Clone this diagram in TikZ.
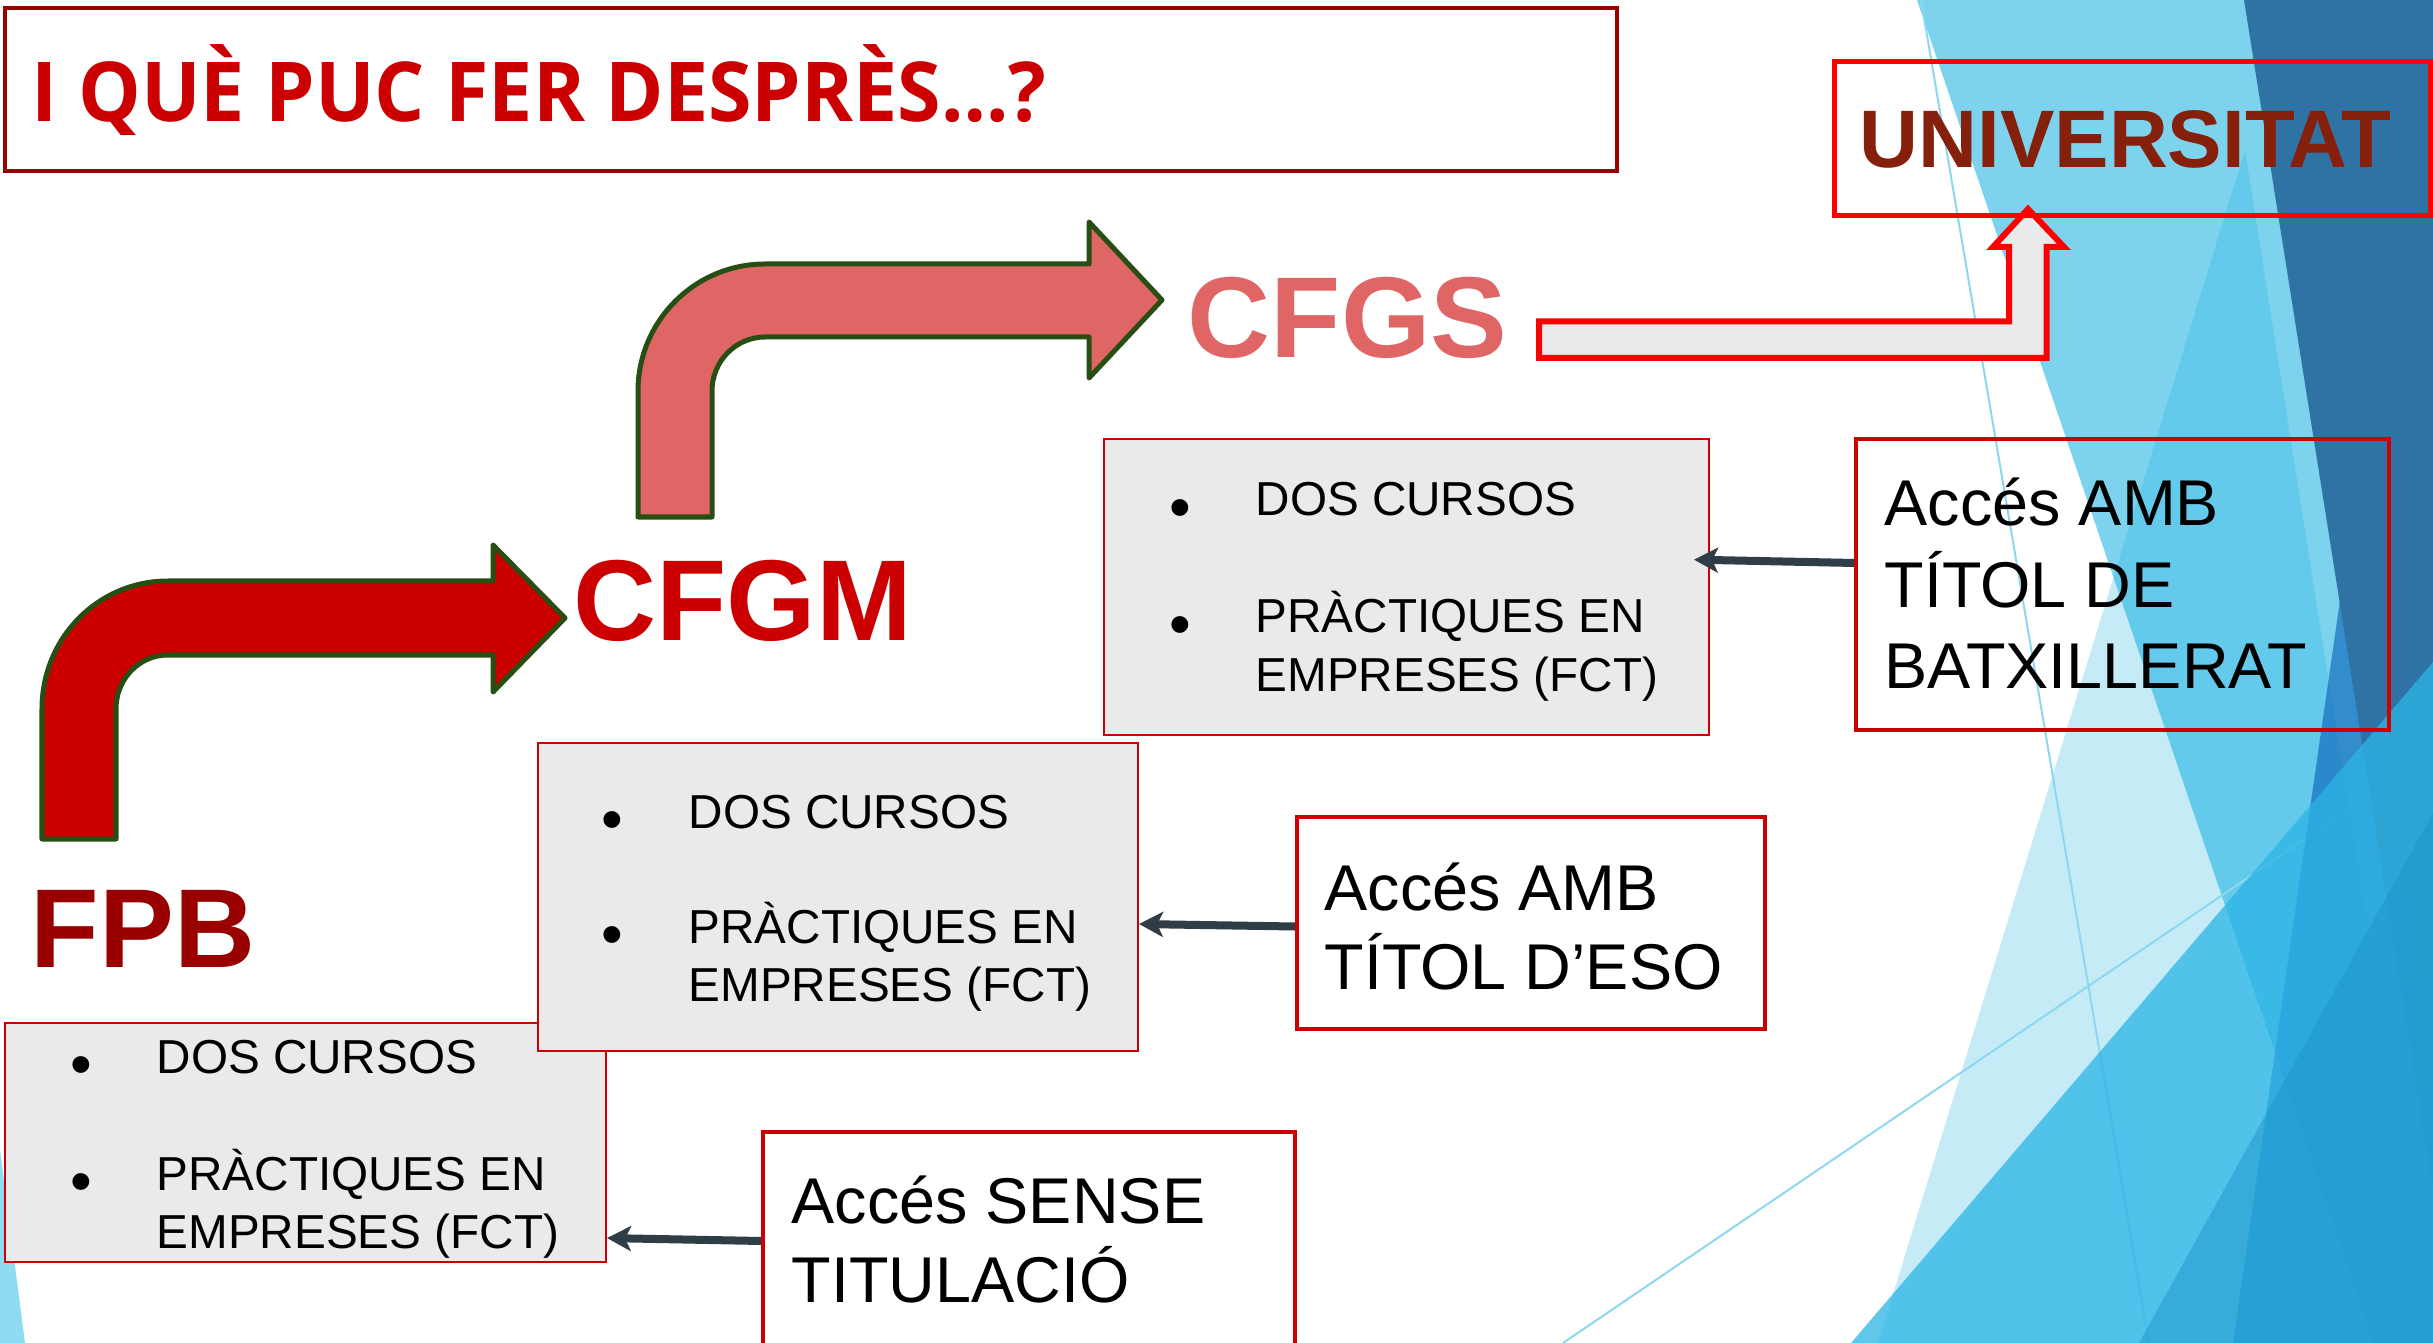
\documentclass[tikz,border=0pt]{standalone}
\usepackage{fontspec}
\setmainfont{Liberation Sans}
\newfontfamily\titlefont{Open Sans}
\usetikzlibrary{arrows.meta,fit}
\newcommand{\fsz}[1]{\fontsize{#1}{#1}\selectfont}
\definecolor{tred}{HTML}{CC0000}
\definecolor{dred}{HTML}{990000}
\definecolor{cpink}{HTML}{E06666}
\definecolor{cbrown}{HTML}{85200C}
\definecolor{cgreen}{HTML}{274E13}
\definecolor{cgray}{HTML}{EAEAEA}
\definecolor{cslate}{HTML}{2F3E46}
\definecolor{cbright}{HTML}{FF0000}
\definecolor{cLT}{HTML}{7DD3EE}
\definecolor{cPT}{HTML}{1BB0E3}
\definecolor{cline}{HTML}{8DD8F0}
\definecolor{cTthree}{HTML}{146EBE}
\definecolor{cDB}{HTML}{2F72A4}
\definecolor{cTone}{HTML}{2BB5E5}
\definecolor{cTtwo}{HTML}{1E96CD}
\definecolor{cSL}{HTML}{8FDBF2}
\tikzset{
  gbox/.style={fill=cgray, draw=tred, line width=0.02cm, inner sep=0pt},
  abox/.style={draw=tred, line width=0.04cm, inner sep=0pt},
  lbl/.style={anchor=base west, inner sep=0pt},
  gtext/.style={lbl, font=\fsz{13.55pt}},
  atext/.style={lbl, font=\fsz{18.4pt}},
  bul/.style={anchor=base, inner sep=0pt, font=\fsz{17.6pt}},
  big/.style={lbl, font=\bfseries\fsz{32.7pt}},
  conn/.style={draw=cslate, line width=0.08cm, -{Stealth[length=0.24cm,width=0.25cm,inset=0.06cm]}},
  blockarrow/.style={draw=cgreen, line width=0.05cm, line join=round},
}
\newcommand{\graylist}[6]{%
  \node[bul] (#1b1) at (#2,#4+12) {•};
  \node[bul] (#1b2) at (#2,#5+12) {•};
  \node[gtext] (#1t1) at (#3,#4) {DOS CURSOS};
  \node[gtext] (#1t2) at (#3,#5) {PRÀCTIQUES EN};
  \node[gtext] (#1t3) at (#3,#6) {EMPRESES (FCT)};
}
\begin{document}
\begin{tikzpicture}[x=0.01cm,y=-0.01cm]
\clip (0,0) rectangle (2433,1343);
\fill[white] (0,0) rectangle (2433,1343);
% background facets
\fill[cLT] (1917,0) -- (2433,0) -- (2433,1343) -- (2374,1343) -- cycle;
\fill[cPT, opacity=0.25] (2245,150) -- (1878,1343) -- (2433,1343) -- cycle;
\draw[cline, line width=0.02cm] (1921,0) -- (2149,1343);
\draw[cline, line width=0.02cm] (1563,1343) -- (2433,752);
\fill[cTthree, opacity=0.7] (2340,600) -- (2233,1343) -- (2433,1343) -- (2433,600) -- cycle;
\fill[cDB] (2244,0) -- (2433,0) -- (2433,1190) -- cycle;
\fill[cTone, opacity=0.75] (1851,1343) -- (2433,662) -- (2433,1343) -- cycle;
\fill[cTtwo, opacity=0.5] (2139,1343) -- (2433,813) -- (2433,1343) -- cycle;
\fill[cSL] (0,1150) -- (25,1343) -- (0,1343) -- cycle;

% title
\node[fit={(5,8) (1617,171)}, draw=dred, line width=0.04cm, inner sep=0pt] (titlebox) {};
\node[lbl, text=tred, font=\titlefont\bfseries\fsz{23.5pt}] (title) at (31,122) {\scalebox{0.955}[1]{I QUÈ PUC FER DESPRÈS…?}};

% block arrows
\filldraw[blockarrow, fill=tred] (42,839) -- (42,709) .. controls (42,638) and (98,581) .. (168,581) -- (493,581) -- (493,545) -- (565,618) -- (493,692) -- (493,655) -- (168,655) .. controls (139,655) and (116,679) .. (116,709) -- (116,839) -- cycle;
\filldraw[blockarrow, fill=cpink] (638,517) -- (638,391) .. controls (638,321) and (695,264) .. (765,264) -- (1089,264) -- (1089,222) -- (1162,300) -- (1089,378) -- (1089,337) -- (765,337) .. controls (736,337) and (712,361) .. (712,391) -- (712,517) -- cycle;
\filldraw[fill=cgray, draw=cbright, line width=0.06cm] (1539,321.5) -- (2009,321.5) -- (2009,247) -- (1993,247) -- (2028,209) -- (2064,247) -- (2046.5,247) -- (2046.5,358) -- (1539,358) -- cycle;

% big labels
\node[big, text=tred] (cfgm) at (573,640) {CFGM};
\node[big, text=cpink] (cfgs) at (1187,358) {CFGS};
\node[lbl, text=dred, font=\bfseries\fsz{31.9pt}] (fpb) at (30,967) {FPB};
\node[fit={(1834,62) (2430,216)}, draw=cbright, line width=0.05cm, inner sep=0pt] (univbox) {};
\node[lbl, text=cbrown, font=\bfseries\fsz{23.2pt}] (univ) at (1859,168) {UNIVERSITAT};

% gray boxes
\node[gbox, fit={(5,1023) (606,1262)}] (C) {};
\node[gbox, fit={(538,743) (1138,1051)}] (B) {};
\node[gbox, fit={(1104,439) (1709,735)}] (A) {};
\graylist{c}{81}{156}{1073}{1190}{1248}
\graylist{b}{612}{688}{828}{943}{1001}
\graylist{a}{1180}{1255}{516}{633}{691}

% access boxes
\node[abox, fit={(1856,439) (2389,730)}] (D) {};
\node[abox, fit={(1297,817) (1765,1029)}] (E) {};
\node[abox, fit={(763,1132) (1295,1400)}] (F) {};
\node[atext] (d1) at (1884,526) {Accés AMB};
\node[atext] (d2) at (1884,607) {TÍTOL DE};
\node[atext] (d3) at (1884,688) {BATXILLERAT};
\node[atext] (e1) at (1324,910) {Accés AMB};
\node[atext] (e2) at (1324,989) {TÍTOL D’ESO};
\node[atext] (f1) at (791,1223) {Accés SENSE};
\node[atext] (f2) at (791,1302) {TITULACIÓ};

% connectors
\draw[conn, shorten >=-0.16cm] ([yshift=0.215cm]D.west) -- ([yshift=0.27cm]A.east);
\draw[conn] ([yshift=-0.035cm]E.west) -- ([yshift=-0.27cm]B.east);
\draw[conn] ([yshift=0.25cm]F.west) -- ([yshift=-0.955cm]C.east);
\end{tikzpicture}
\end{document}
